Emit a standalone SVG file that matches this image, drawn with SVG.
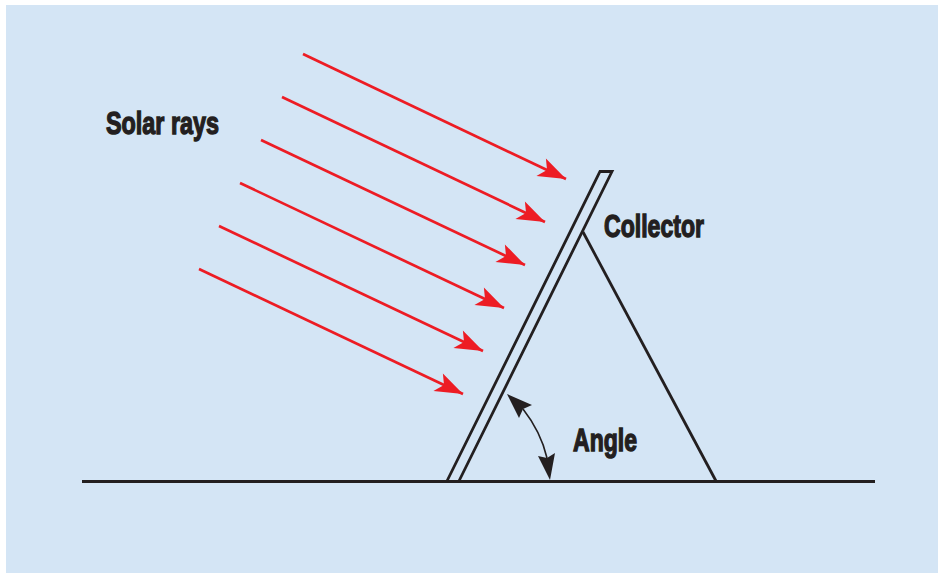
<svg xmlns="http://www.w3.org/2000/svg" width="938" height="573" viewBox="0 0 938 573">
<style>
.ink{fill:none;stroke:#231f20;stroke-width:2.8}
.ray{stroke:#ed1c24;stroke-width:2.7;fill:none;marker-end:url(#redhead)}
.lbl{font-family:"Liberation Sans",Arial,sans-serif;font-weight:700;font-size:32px;fill:#231f20;stroke:#231f20;stroke-width:1.400}
</style>
<defs>
<marker id="redhead" markerUnits="userSpaceOnUse" markerWidth="34" markerHeight="24" refX="28" refY="12" orient="auto" overflow="visible">
<path d="M28 12L1 2L7 12L0 22Z" fill="#ed1c24"/>
</marker>
</defs>
<rect id="background" x="6" y="5" width="932" height="568" fill="#d4e5f5"/>
<g id="connectors">
<path class="ray" d="M303 54L566 179"/>
<path class="ray" d="M282 97L545 222"/>
<path class="ray" d="M261 140L525 265"/>
<path class="ray" d="M240 183L504 308"/>
<path class="ray" d="M219 226L483 351"/>
<path class="ray" d="M199 269L463 394"/>
<path d="M523 409Q541 432 547 458" fill="none" stroke="#231f20" stroke-width="1.600"/>
<path d="M507 394L532 405L523 409L519 418Z" fill="#231f20"/>
<path d="M550 480L538 456L547 458L555 453Z" fill="#231f20"/>
</g>
<g id="ground"><path class="ink" d="M82 481.500H875"/></g>
<g id="collector"><path class="ink" d="M447 481L600 171.500H612L459 481"/></g>
<g id="support"><path class="ink" d="M583 232L716 481"/></g>
<g id="label-solar-rays"><text class="lbl" x="106" y="134" textLength="113" lengthAdjust="spacingAndGlyphs">Solar rays</text></g>
<g id="label-collector"><text class="lbl" x="604" y="237" textLength="100" lengthAdjust="spacingAndGlyphs">Collector</text></g>
<g id="label-angle"><text class="lbl" x="573" y="451" textLength="64" lengthAdjust="spacingAndGlyphs">Angle</text></g>
</svg>
